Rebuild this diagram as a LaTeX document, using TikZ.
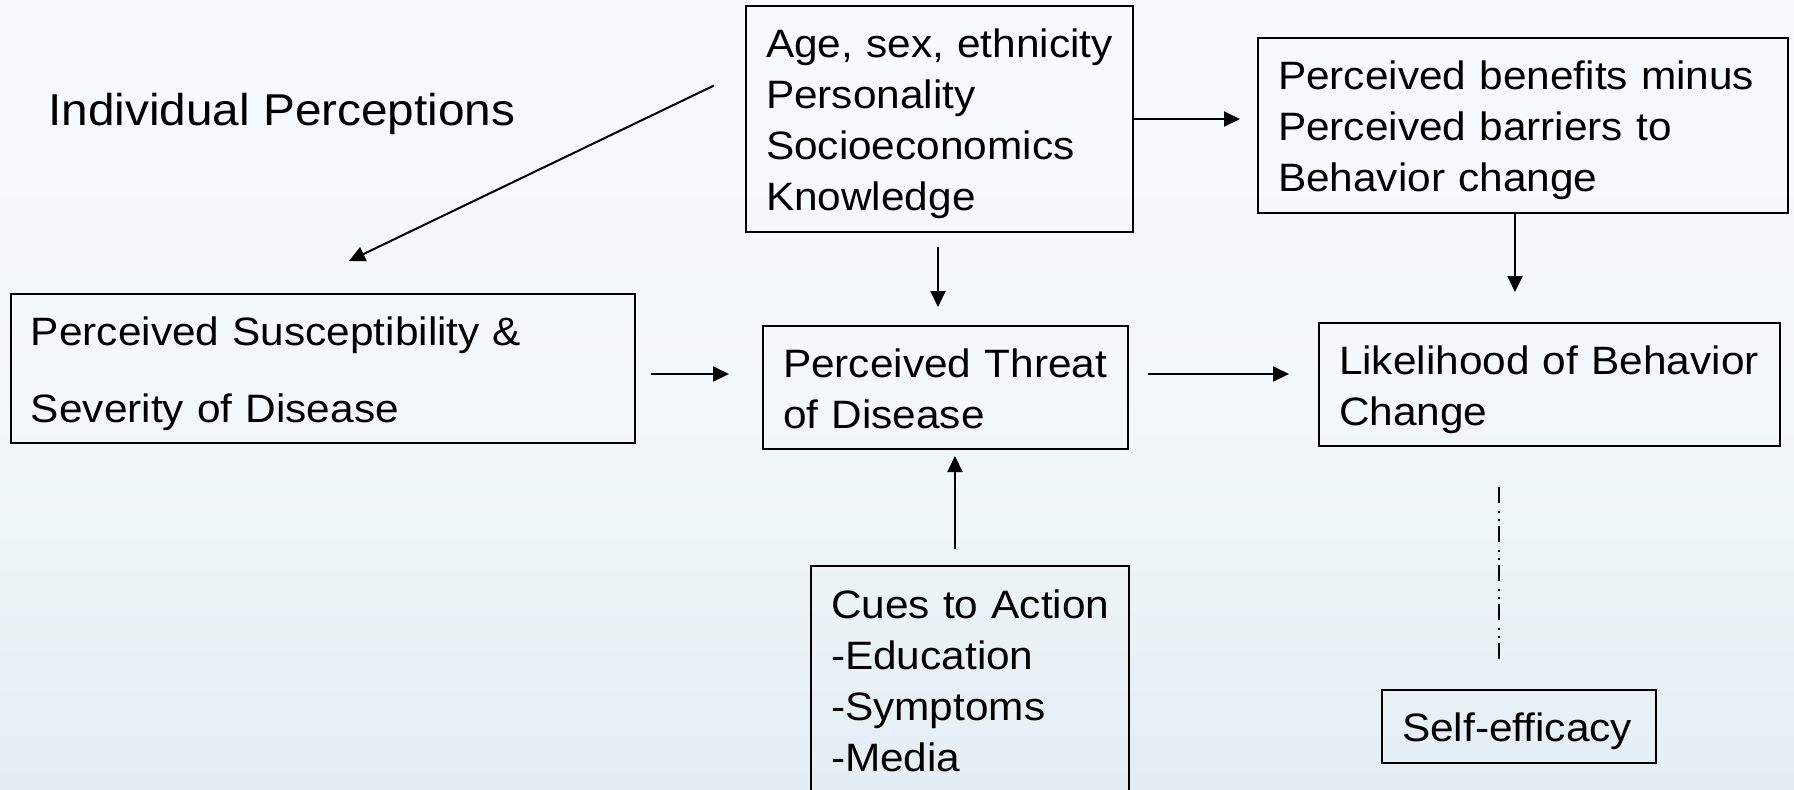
\documentclass[tikz,border=0pt]{standalone}
\usepackage{fontspec}
\setmainfont{Liberation Sans}[FakeStretch=1.07]
\usetikzlibrary{arrows.meta}

\definecolor{bgtop}{HTML}{F8FBFD}
\definecolor{bgmid}{HTML}{F3F8FA}
\definecolor{bgbot}{HTML}{E4EEF4}

\tikzset{
  hbmbox/.style={draw, line width=1pt, inner xsep=10pt, inner ysep=0pt,
    align=left, font=\fontsize{19.8pt}{25.5pt}\selectfont,
    execute at begin node={\hyphenpenalty=10000\exhyphenpenalty=10000\rule{0pt}{19.4pt}},
    execute at end node={\rule[-4.2pt]{0pt}{4.2pt}}},
  arr/.style={line width=1pt, -{Triangle[length=8pt,width=7.5pt]}},
  dashdotdot/.style={line width=1pt,
    dash pattern=on 8pt off 4pt on 1pt off 3pt on 1pt off 2.5pt}
}

\begin{document}
\begin{tikzpicture}[x=0.5pt,y=-0.5pt]
  % canvas and soft background
  \useasboundingbox (0,0) rectangle (1794,789);
  \clip (0,0) rectangle (1794,789);
  \shade[top color=bgtop, bottom color=bgbot, middle color=bgmid]
    (0,0) rectangle (1794,789);

  % heading
  \node[anchor=base west, inner sep=0pt, font=\fontsize{22.3pt}{26pt}\selectfont]
    (title) at (48,125) {Individual Perceptions};

  % boxes
  \node[hbmbox, text width=173.5pt, minimum height=113pt] (age) at (939.5,119)
    {\mbox{Age, sex, ethnicity}\\Personality\\Socioeconomics\\Knowledge};
  \node[hbmbox, text width=245pt, minimum height=87.5pt] (benefits) at (1523,125.5)
    {\mbox{Perceived benefits minus}\\Perceived barriers to\\Behavior change};
  \node[hbmbox, text width=292pt, minimum height=74.5pt,
        font=\fontsize{19.8pt}{38.5pt}\selectfont] (susc) at (323,368.5)
    {Perceived Susceptibility \&\\Severity of Disease};
  \node[hbmbox, text width=162.5pt, minimum height=61.5pt] (threat) at (945.5,387.5)
    {\mbox{Perceived Threat}\\of Disease};
  \node[hbmbox, text width=210.5pt, minimum height=61.5pt] (likely) at (1549.5,384.5)
    {\mbox{Likelihood of Behavior}\\Change};
  \node[hbmbox, text width=139pt, minimum height=114pt] (cues) at (970,680)
    {\mbox{Cues to Action}\\-Education\\-Symptoms\\-Media};
  \node[hbmbox, text width=117pt, minimum height=36.5pt] (selfeff) at (1519,726.5)
    {\mbox{Self-efficacy}};

  % connectors
  \draw[arr] ([shift={(-15.5pt,16.75pt)}]age.west) -- ([shift={(13pt,16pt)}]susc.north);
  \draw[arr, shorten >=8.5pt] (age.east) -- (age.east -| benefits.west);
  \draw[arr, shorten <=7pt, shorten >=9pt]
    ([xshift=-0.75pt]age.south) -- ([xshift=-0.75pt]age.south |- threat.north);
  \draw[arr, shorten >=15pt]
    ([xshift=-4pt]benefits.south) -- ([xshift=-4pt]benefits.south |- likely.north);
  \draw[arr, shorten <=7.5pt, shorten >=16.5pt]
    ([yshift=-2.75pt]susc.east) -- ([yshift=-2.75pt]susc.east -| threat.west);
  \draw[arr, shorten <=9.5pt, shorten >=14.5pt]
    ([yshift=6.75pt]threat.east) -- ([yshift=6.75pt]threat.east -| likely.west);
  \draw[arr, shorten <=8pt, shorten >=3pt]
    ([xshift=-7.5pt]cues.north) -- ([xshift=-7.5pt]cues.north |- threat.south);
  \draw[dashdotdot, shorten <=20pt, shorten >=15pt]
    ([xshift=-25.25pt]likely.south) -- ([xshift=-25.25pt]likely.south |- selfeff.north);
\end{tikzpicture}
\end{document}
